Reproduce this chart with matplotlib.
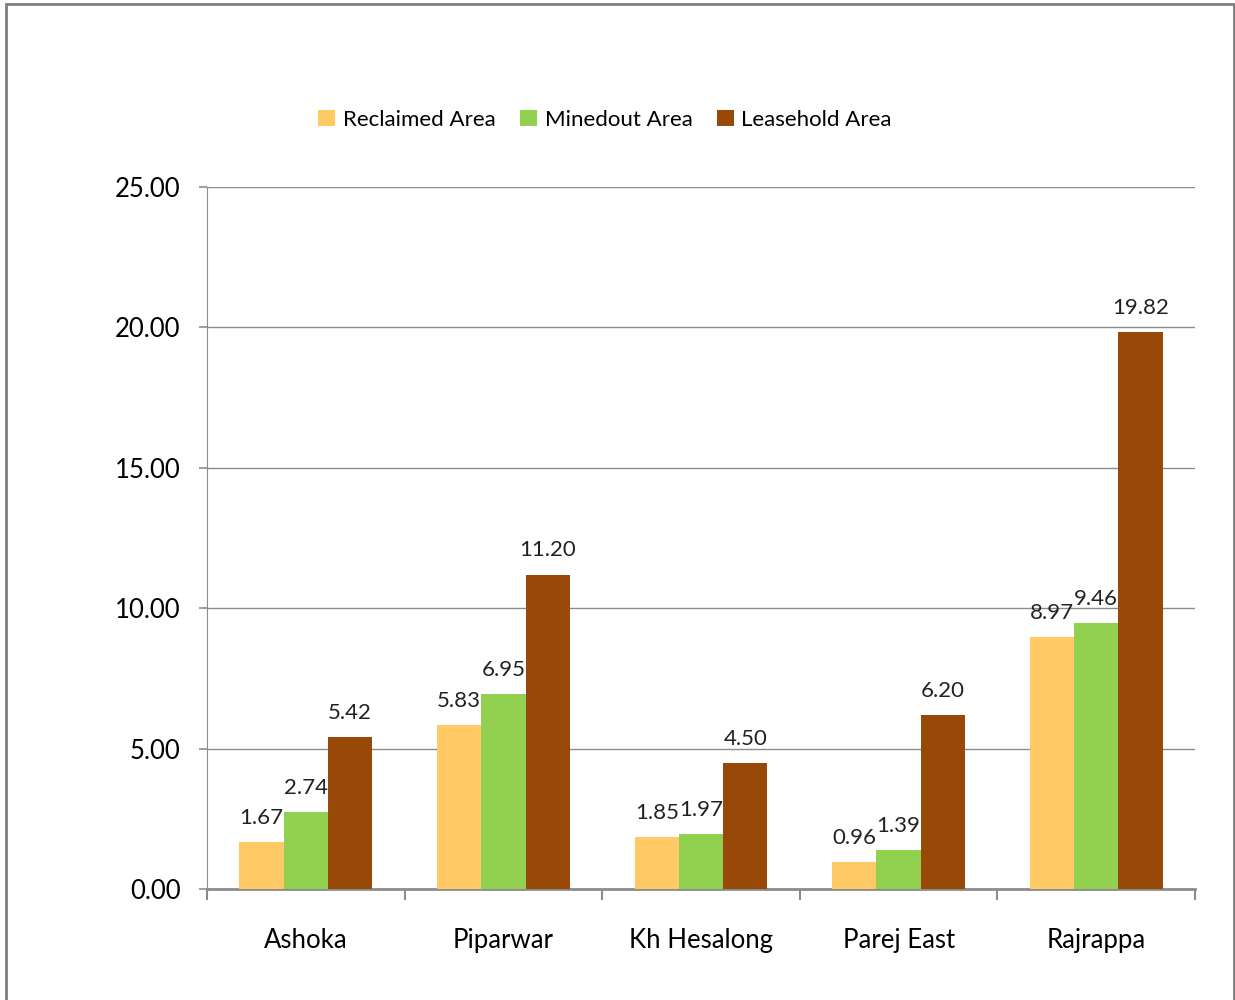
import numpy as np
import matplotlib
matplotlib.use('Agg')
import matplotlib.pyplot as plt
from matplotlib.patches import Rectangle

plt.rcParams['font.family'] = ['Lato', 'DejaVu Sans']

mines = ['Ashoka', 'Piparwar', 'Kh Hesalong', 'Parej East', 'Rajrappa']
reclaimed = [1.67, 5.83, 1.85, 0.96, 8.97]
minedout = [2.74, 6.95, 1.97, 1.39, 9.46]
leasehold = [5.42, 11.20, 4.50, 6.20, 19.82]

series = [('Reclaimed Area', reclaimed, '#FFCA66'),
          ('Minedout Area', minedout, '#92D050'),
          ('Leasehold Area', leasehold, '#984807')]

fig = plt.figure(figsize=(12.35, 10), dpi=100)
ax = fig.add_axes([0.1676, 0.111, 0.8, 0.702])

# outer chart border
fig.patches.append(Rectangle((0.005, -0.01), 0.994, 1.006, transform=fig.transFigure,
                             fill=False, edgecolor='#7f7f7f', linewidth=2))

x = np.arange(len(mines))
w = 0.224
for i, (name, vals, col) in enumerate(series):
    pos = x + (i - 1) * w
    bars = ax.bar(pos, vals, w, color=col, label=name, zorder=3)
    for xx, v in zip(pos, vals):
        ax.text(xx, v + 0.5, '%.2f' % v, ha='center', va='bottom', fontsize=16, color='#222222', zorder=4)

ax.set_xlim(-0.5, 4.5)
ax.set_ylim(0, 25)
ax.set_yticks(np.arange(0, 26, 5))
ax.set_yticklabels(['%.2f' % t for t in np.arange(0, 26, 5)], fontsize=18.5)
ax.yaxis.grid(True, color='#8c8c8c', linewidth=1, zorder=0)

ax.set_xticks(x)
ax.set_xticklabels(mines, fontsize=18.5)
ax.set_xticks(np.arange(-0.5, 5, 1), minor=True)
ax.tick_params(axis='x', which='major', length=0, pad=28)
ax.tick_params(axis='x', which='minor', length=8, color='#8c8c8c', width=1.5)
ax.tick_params(axis='y', length=6, color='#8c8c8c', pad=13, width=1.2)

for s in ['top', 'right']:
    ax.spines[s].set_visible(False)
ax.spines['left'].set_color('#8c8c8c')
ax.spines['bottom'].set_color('#8c8c8c')
ax.spines['bottom'].set_linewidth(2)

fig.legend(loc='center', bbox_to_anchor=(0.49, 0.88), ncol=3, frameon=False,
           fontsize=16, handlelength=0.75, handleheight=0.75, handletextpad=0.35, columnspacing=1.1)

fig.savefig('out.png', dpi=100)
